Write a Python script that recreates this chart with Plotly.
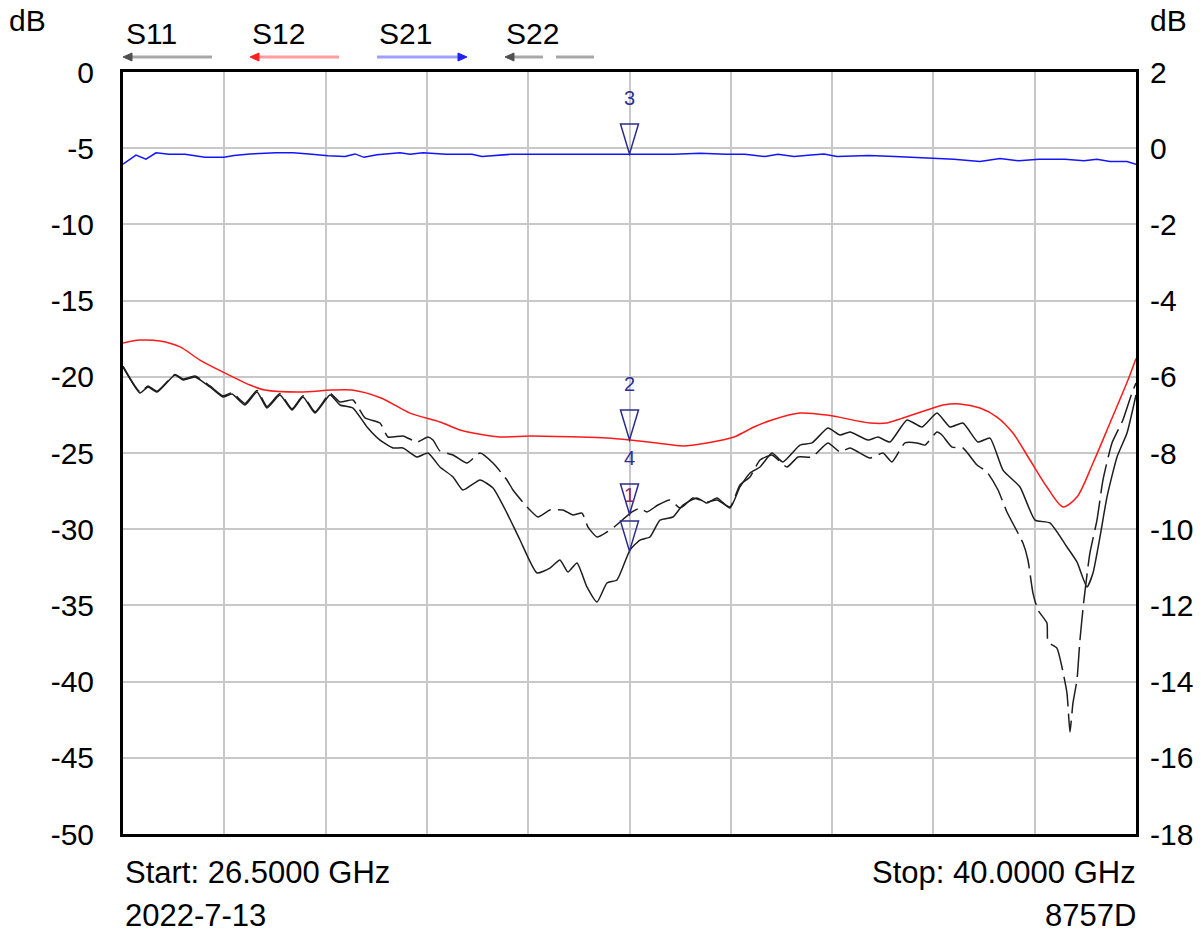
import numpy as np
import plotly.graph_objects as go

# ---------------- data ----------------
F_START, F_STOP = 26.5, 40.0
MARKER_F = 33.25

left_ticks = [0, -5, -10, -15, -20, -25, -30, -35, -40, -45, -50]
left_labels = ["0", "-5", "-10", "-15", "-20", "-25", "-30", "-35", "-40", "-45", "-50"]
right_ticks = [2, 0, -2, -4, -6, -8, -10, -12, -14, -16, -18]
right_labels = ["2", "0", "-2", "-4", "-6", "-8", "-10", "-12", "-14", "-16", "-18"]

s11_f = [26.500, 26.727, 26.833, 26.953, 27.193, 27.300, 27.459, 27.659, 27.833, 27.953,
         28.126, 28.286, 28.419, 28.592, 28.752, 28.899, 29.059, 29.259, 29.392, 29.565,
         29.752, 29.925, 30.098, 30.231, 30.418, 30.565, 30.724, 30.898, 31.031, 31.258,
         31.431, 31.617, 31.791, 32.017, 32.190, 32.323, 32.430, 32.550, 32.683, 32.817,
         32.950, 33.083, 33.256, 33.390, 33.523, 33.656, 33.829, 33.963, 34.149, 34.282,
         34.416, 34.589, 34.722, 34.856, 34.989, 35.149, 35.295, 35.522, 35.682, 35.895,
         36.055, 36.188, 36.428, 36.561, 36.721, 36.948, 37.148, 37.348, 37.521, 37.694,
         37.894, 38.054, 38.227, 38.454, 38.654, 38.853, 39.080, 39.213, 39.347, 39.427,
         39.520, 39.613, 39.747, 39.880, 40.000]
s11_db = [-19.36, -21.06, -20.67, -21.00, -19.88, -20.21, -20.01, -20.67, -21.33, -21.13,
          -21.85, -21.00, -22.05, -21.19, -22.18, -21.33, -22.38, -21.19, -21.85, -22.05,
          -23.29, -24.15, -24.67, -24.67, -25.26, -25.00, -25.92, -26.57, -27.43, -26.77,
          -27.30, -28.94, -30.71, -32.87, -32.55, -32.02, -32.81, -32.22, -33.79, -34.78,
          -33.53, -33.33, -31.37, -30.71, -30.51, -29.40, -29.20, -28.41, -27.95, -28.28,
          -27.95, -28.61, -27.23, -26.31, -25.92, -25.00, -25.59, -24.48, -24.34, -23.36,
          -23.82, -23.62, -24.15, -23.95, -24.28, -22.83, -23.29, -22.38, -23.29, -23.03,
          -24.28, -24.02, -26.12, -27.23, -29.40, -29.59, -31.17, -32.15, -33.79, -32.87,
          -30.51, -27.89, -25.26, -23.69, -21.19]

s22_f = [26.500, 26.727, 26.833, 26.953, 27.193, 27.300, 27.459, 27.659, 27.833, 27.953,
         28.126, 28.286, 28.419, 28.592, 28.752, 28.899, 29.059, 29.259, 29.392, 29.565,
         29.725, 29.925, 30.031, 30.231, 30.418, 30.565, 30.631, 30.724, 30.898, 31.084,
         31.258, 31.431, 31.617, 31.697, 31.884, 32.030, 32.190, 32.363, 32.497, 32.617,
         32.697, 32.817, 32.950, 33.030, 33.283, 33.390, 33.483, 33.629, 33.789, 33.923,
         34.016, 34.096, 34.282, 34.416, 34.589, 34.722, 34.856, 34.989, 35.149, 35.349,
         35.495, 35.682, 35.895, 36.055, 36.188, 36.455, 36.628, 36.748, 36.921, 37.081,
         37.188, 37.348, 37.414, 37.548, 37.694, 37.881, 38.014, 38.161, 38.280, 38.494,
         38.560, 38.627, 38.693, 38.813, 38.827, 38.946, 39.013, 39.080, 39.120, 39.160,
         39.213, 39.253, 39.306, 39.386, 39.480, 39.560, 39.680, 39.826, 39.946, 40.000]
s22_db = [-19.30, -21.00, -20.60, -20.95, -19.85, -20.15, -19.95, -20.60, -21.25, -21.05,
          -21.75, -20.90, -21.95, -21.10, -22.10, -21.25, -22.30, -21.10, -21.65, -21.52,
          -22.70, -23.03, -23.95, -23.88, -24.28, -23.95, -24.15, -24.87, -25.13, -25.66,
          -25.00, -25.66, -26.77, -27.43, -28.54, -29.20, -28.74, -28.74, -29.07, -28.94,
          -29.86, -30.51, -30.18, -29.92, -28.87, -28.61, -28.87, -28.41, -28.08, -28.61,
          -28.28, -27.95, -28.22, -28.08, -28.54, -27.10, -26.57, -25.46, -25.13, -25.92,
          -25.26, -25.26, -24.34, -24.93, -24.67, -25.33, -25.00, -25.59, -24.34, -24.34,
          -24.48, -23.62, -23.82, -24.61, -24.67, -25.79, -26.25, -27.43, -28.87, -30.91,
          -32.02, -34.19, -35.30, -36.16, -37.40, -37.80, -39.04, -40.75, -43.31, -41.40,
          -39.90, -37.27, -34.65, -31.56, -29.40, -26.77, -24.34, -22.83, -21.06, -20.41]

s12_f = [26.500, 26.727, 26.993, 27.260, 27.526, 27.833, 28.192, 28.392, 28.859, 29.279,
         29.552, 29.938, 30.325, 30.724, 30.991, 31.164, 31.524, 31.924, 32.590, 32.950,
         33.256, 33.616, 33.963, 34.282, 34.642, 34.909, 35.149, 35.522, 35.882, 36.455,
         36.681, 36.895, 37.214, 37.428, 37.654, 37.921, 38.147, 38.360, 38.587, 38.813,
         39.027, 39.213, 39.427, 39.653, 39.893, 40.000]
s12_db = [-17.78, -17.59, -17.65, -18.04, -18.90, -19.69, -20.54, -20.87, -21.00, -20.87,
          -20.87, -21.39, -22.38, -22.97, -23.49, -23.69, -23.95, -23.88, -23.95, -24.02,
          -24.15, -24.34, -24.54, -24.34, -23.95, -23.29, -22.83, -22.38, -22.51, -23.03,
          -23.03, -22.70, -22.18, -21.85, -21.78, -22.05, -22.64, -23.69, -25.46, -27.23,
          -28.54, -27.89, -25.66, -23.03, -20.21, -18.80]

s21_f = [26.500, 26.673, 26.806, 26.940, 27.113, 27.326, 27.593, 27.846, 27.979, 28.192,
         28.539, 28.765, 28.979, 29.232, 29.458, 29.592, 29.712, 29.885, 30.191, 30.325,
         30.498, 30.804, 31.151, 31.284, 31.670, 33.230, 33.843, 34.189, 34.536, 34.789,
         35.055, 35.228, 35.442, 35.668, 35.842, 36.015, 36.441, 36.788, 37.228, 37.574,
         37.920, 38.187, 38.440, 38.707, 39.053, 39.306, 39.480, 39.653, 39.880, 40.000]
s21_db = [-0.42, -0.18, -0.29, -0.12, -0.16, -0.16, -0.24, -0.24, -0.19, -0.15,
          -0.12, -0.12, -0.15, -0.20, -0.22, -0.15, -0.24, -0.17, -0.12, -0.16,
          -0.12, -0.16, -0.16, -0.22, -0.16, -0.15, -0.16, -0.13, -0.16, -0.16,
          -0.22, -0.16, -0.22, -0.18, -0.15, -0.22, -0.19, -0.22, -0.27, -0.29,
          -0.35, -0.27, -0.33, -0.29, -0.29, -0.33, -0.29, -0.35, -0.35, -0.42]

legend_names = ["S11", "S12", "S21", "S22"]
footer_left = ["Start: 26.5000 GHz", "2022-7-13"]
footer_right = ["Stop: 40.0000 GHz", "8757D"]

# ---------------- layout constants ----------------
W, H = 1204, 935
L, R, T, B = 123, 1136, 72, 834
PW, PH = R - L, B - T
FONT = "Liberation Sans, Arial, sans-serif"
FS = 30
FS_FOOT = 31


def px(xpix):
    return (xpix - L) / PW


def py(ypix):
    return (B - ypix) / PH


fig = go.Figure()

fig.add_trace(go.Scatter(x=s11_f, y=s11_db, mode="lines", name="S11",
                         line=dict(color="#1e1e1e", width=1.5, shape="spline", smoothing=0.5)))
fig.add_trace(go.Scatter(x=s22_f, y=s22_db, mode="lines", name="S22",
                         line=dict(color="#1e1e1e", width=1.5, dash="30px,7px",
                                   shape="spline", smoothing=0.5)))
fig.add_trace(go.Scatter(x=s12_f, y=s12_db, mode="lines", name="S12",
                         line=dict(color="#ff1a1a", width=1.5, shape="spline", smoothing=0.8)))
fig.add_trace(go.Scatter(x=s21_f, y=s21_db, mode="lines", name="S21", yaxis="y2",
                         line=dict(color="#1414ff", width=1.5)))

grid_vals = [F_START + i * (F_STOP - F_START) / 10 for i in range(11)]

fig.update_layout(
    width=W, height=H, autosize=False,
    margin=dict(l=L, r=W - R, t=T, b=H - B, pad=0),
    paper_bgcolor="white", plot_bgcolor="white",
    showlegend=False,
    font=dict(family=FONT, size=FS, color="black"),
    xaxis=dict(range=[F_START, F_STOP], tickvals=grid_vals, showticklabels=False,
               ticks="", showgrid=True, gridcolor="#c8c8c8", gridwidth=2,
               zeroline=False, showline=True, mirror=True, linecolor="black",
               linewidth=3),
    yaxis=dict(range=[-50, 0], tickvals=left_ticks, ticktext=left_labels,
               ticks="", ticklabelstandoff=20, showgrid=True, gridcolor="#c8c8c8",
               gridwidth=2, zeroline=False, showline=True, mirror=True,
               linecolor="black", linewidth=3, tickfont=dict(size=FS)),
    yaxis2=dict(range=[-18, 2], tickvals=right_ticks, ticktext=right_labels,
                overlaying="y", side="right", ticks="", ticklabelstandoff=13,
                showgrid=False, zeroline=False, showline=False,
                tickfont=dict(size=FS)),
)

annotations = []
shapes = []

# axis unit labels
annotations.append(dict(text="dB", xref="paper", yref="paper", x=px(27), y=py(21),
                        showarrow=False, xanchor="center", yanchor="middle",
                        font=dict(size=FS)))
annotations.append(dict(text="dB", xref="paper", yref="paper", x=px(1168), y=py(21),
                        showarrow=False, xanchor="center", yanchor="middle",
                        font=dict(size=FS)))

# legend texts and arrows
leg_text_x = [124, 250, 377, 504]
leg_line = [("#a8a8a8", "#505050", 123, 212, "left"),
            ("#ff9c9c", "#ff2020", 250, 339, "left"),
            ("#a0a0ff", "#2020ff", 377, 467, "right"),
            ("#a8a8a8", "#505050", 505, 543, "left")]
for name, tx, (lc, hc, x0, x1, d) in zip(legend_names, leg_text_x, leg_line):
    annotations.append(dict(text=name, xref="paper", yref="paper", x=px(tx), y=py(33),
                            showarrow=False, xanchor="left", yanchor="middle",
                            font=dict(size=FS)))
    shapes.append(dict(type="line", xref="paper", yref="paper",
                       x0=px(x0 + 6) if d == "left" else px(x0),
                       x1=px(x1 - 6) if d == "right" else px(x1),
                       y0=py(57), y1=py(57), line=dict(color=lc, width=3)))
    if d == "left":
        hx = x0
        path = f"M {px(hx)} {py(57)} L {px(hx + 9)} {py(53)} L {px(hx + 9)} {py(61)} Z"
    else:
        hx = x1
        path = f"M {px(hx)} {py(57)} L {px(hx - 9)} {py(53)} L {px(hx - 9)} {py(61)} Z"
    shapes.append(dict(type="path", xref="paper", yref="paper", path=path,
                       fillcolor=hc, line=dict(color=hc, width=1)))
# second dash of S22 legend
shapes.append(dict(type="line", xref="paper", yref="paper", x0=px(556), x1=px(594),
                   y0=py(57), y1=py(57), line=dict(color="#a8a8a8", width=3)))

# footer texts
for i, (lt, rt) in enumerate(zip(footer_left, footer_right)):
    yy = 872 + 43 * i
    annotations.append(dict(text=lt, xref="paper", yref="paper", x=px(123), y=py(yy),
                            showarrow=False, xanchor="left", yanchor="middle",
                            font=dict(size=FS_FOOT)))
    annotations.append(dict(text=rt, xref="paper", yref="paper", x=px(1138), y=py(yy),
                            showarrow=False, xanchor="right", yanchor="middle",
                            font=dict(size=FS_FOOT)))

# markers
markers = [
    ("3", np.interp(MARKER_F, s21_f, s21_db), "y2", "#2e2e96"),
    ("2", np.interp(MARKER_F, s12_f, s12_db), "y", "#2e2e96"),
    ("4", np.interp(MARKER_F, s22_f, s22_db), "y", "#2e2e96"),
    ("1", np.interp(MARKER_F, s11_f, s11_db), "y", "#8a2a6a"),
]
for lab, val, yr, col in markers:
    shapes.append(dict(type="path", xref="x", yref=yr, xsizemode="pixel",
                       ysizemode="pixel", xanchor=MARKER_F, yanchor=float(val),
                       path="M -9,30 L 9,30 L 0,0 Z", line=dict(color="#2b2b8f", width=1.5),
                       fillcolor="rgba(0,0,0,0)", layer="above"))
    annotations.append(dict(text=lab, xref="x", yref=yr, x=MARKER_F, y=float(val),
                            yshift=56, showarrow=False, xanchor="center",
                            yanchor="middle", font=dict(size=20, color=col)))

fig.update_layout(annotations=annotations, shapes=shapes)

fig.write_html("out.html", config={"displayModeBar": False},
               post_script="document.body.style.margin='0';")
